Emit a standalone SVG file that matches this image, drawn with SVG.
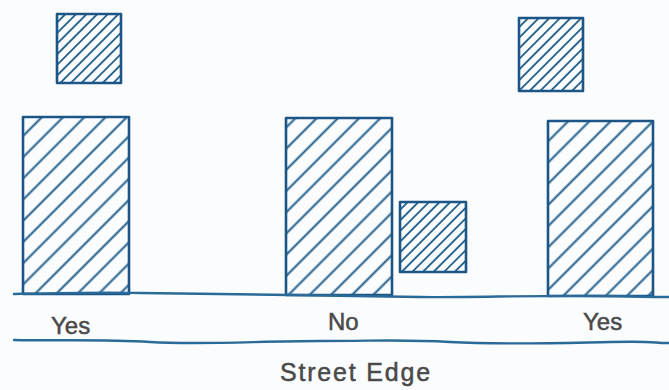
<svg xmlns="http://www.w3.org/2000/svg" width="669" height="390" viewBox="0 0 669 390">
<defs>
<pattern id="hatchBig" patternUnits="userSpaceOnUse" width="15" height="15" patternTransform="rotate(45)">
<line x1="7.5" y1="0" x2="7.5" y2="15" stroke="#1f5d8c" stroke-width="2"/>
</pattern>
<pattern id="hatchSmall" patternUnits="userSpaceOnUse" width="7.5" height="7.5" patternTransform="rotate(45)">
<line x1="3.75" y1="0" x2="3.75" y2="7.5" stroke="#1f5d8c" stroke-width="1.8"/>
</pattern>
</defs>
<style>
.big{fill:url(#hatchBig);stroke:#1b5686;stroke-width:2.6;stroke-linejoin:round}
.small{fill:url(#hatchSmall);stroke:#1b5686;stroke-width:2.6;stroke-linejoin:round}
.ground{fill:none;stroke:#2a6a98;stroke-width:2.4;stroke-linecap:round}
.lbl{font-family:"Liberation Sans","DejaVu Sans",sans-serif;fill:#4a4a4a;stroke:#4a4a4a;stroke-width:0.5;font-size:24px}
.title{font-family:"Liberation Sans","DejaVu Sans",sans-serif;fill:#4a4a4a;stroke:#4a4a4a;stroke-width:0.5;font-size:25px;letter-spacing:1.8px}
</style>
<rect width="669" height="390" fill="#fbfcfd"/>
<g id="building-left-upper"><rect class="small" x="57" y="14" width="64" height="69"/></g>
<g id="building-left"><rect class="big" x="23" y="117" width="106" height="177"/></g>
<g id="building-middle"><rect class="big" x="286" y="118" width="106" height="177"/></g>
<g id="building-middle-side"><rect class="small" x="400" y="202" width="66" height="70"/></g>
<g id="building-right-upper"><rect class="small" x="519" y="18" width="64" height="73"/></g>
<g id="building-right"><rect class="big" x="548" y="121" width="105" height="175"/></g>
<g id="connectors">
<path class="ground" d="M14 294 C60 293 100 292 140 293 S240 294 290 295 S380 296 420 297 S540 295 600 296 S650 297 669 297"/>
<path class="ground" d="M14 340 C60 341 100 339 150 342 S260 341 320 341 S400 339 450 342 S560 343 610 342 S650 343 669 343"/>
</g>
<g id="labels">
<text class="lbl" x="51" y="334">Yes</text>
<text class="lbl" x="328" y="330">No</text>
<text class="lbl" x="583" y="330">Yes</text>
<text class="title" x="280" y="381">Street Edge</text>
</g>
</svg>
